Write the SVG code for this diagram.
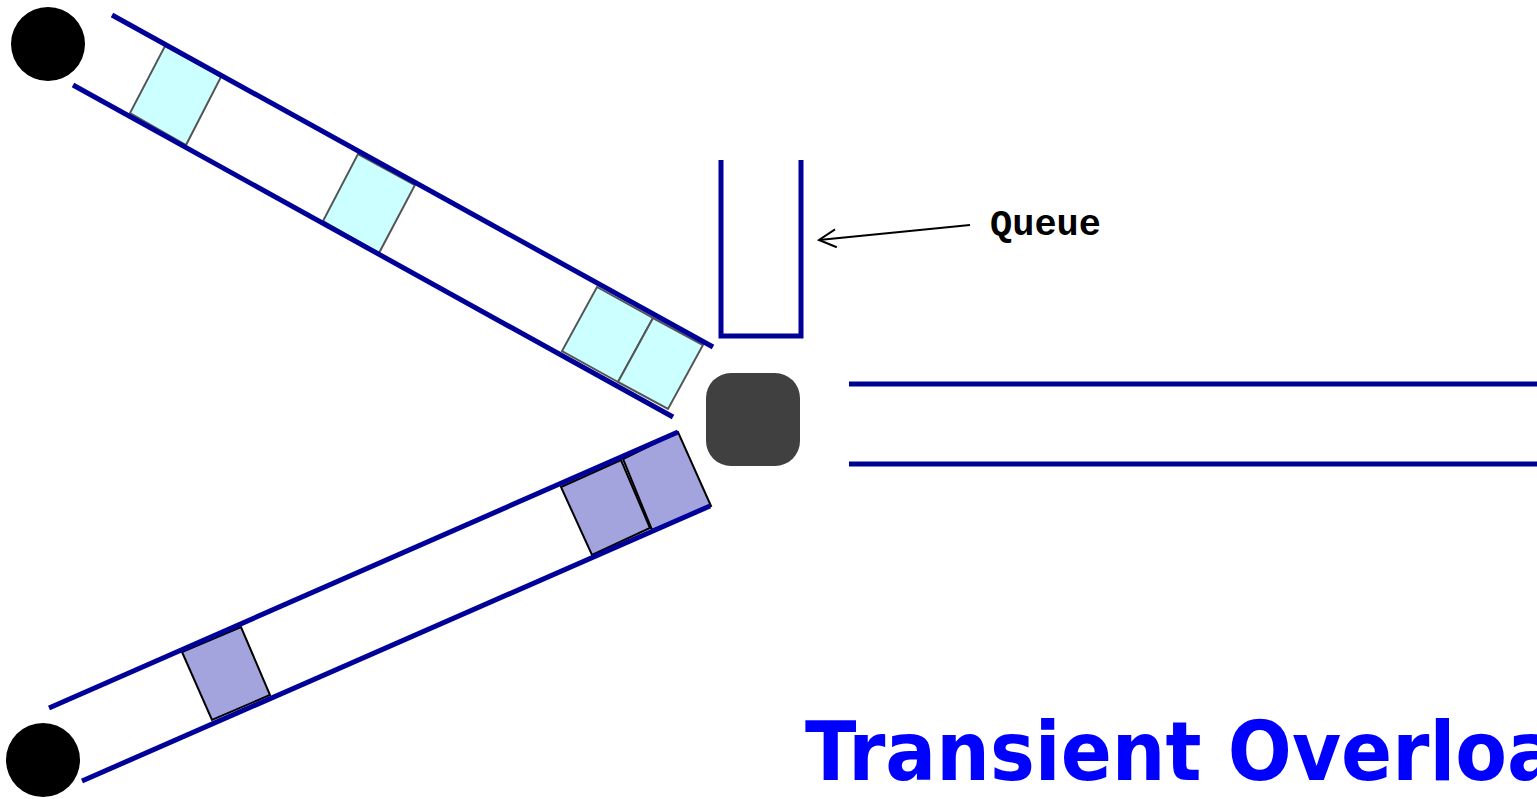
<svg xmlns="http://www.w3.org/2000/svg" width="1537" height="799" viewBox="0 0 1537 799">
<style>
.pipe{stroke:#000099;stroke-width:5;fill:none}
.cy{fill:#ccffff;stroke:#555555;stroke-width:2}
.pu{fill:#a3a3de;stroke:#000000;stroke-width:2}
.src{fill:#000000}
</style>
<defs>
<marker id="open" viewBox="0 0 20 20" refX="18" refY="10" markerWidth="20" markerHeight="20" markerUnits="userSpaceOnUse" orient="auto">
<path d="M1,1 L18,10 L1,19" fill="none" stroke="#000" stroke-width="2"/>
</marker>
</defs>
<rect width="1537" height="799" fill="#ffffff"/>
<g id="packets-upper">
<polygon class="cy" points="165,46 221,77 186,145 130,113"/>
<polygon class="cy" points="358,154 415,185 379,253 323,221"/>
<polygon class="cy" points="597,287 653,318 618,382 562,351"/>
<polygon class="cy" points="653,318 703,345 668,409 618,382"/>
</g>
<g id="packets-lower">
<polygon class="pu" points="182,652 241,627 270,695 212,720"/>
<polygon class="pu" points="561,487 621,460 650,528 592,555"/>
<polygon class="pu" points="623,459 678,432 711,506 652,530"/>
</g>
<g id="connectors">
<line class="pipe" x1="112" y1="15" x2="713" y2="347"/>
<line class="pipe" x1="73" y1="85" x2="673" y2="417"/>
<line class="pipe" x1="49" y1="708" x2="678" y2="432"/>
<line class="pipe" x1="82" y1="781" x2="710" y2="506"/>
<line class="pipe" x1="849" y1="384" x2="1537" y2="384"/>
<line class="pipe" x1="849" y1="464" x2="1537" y2="464"/>
<line x1="970" y1="225" x2="819" y2="240" stroke="#000" stroke-width="2" marker-end="url(#open)"/>
</g>
<g id="source-top"><circle class="src" cx="48" cy="44" r="37"/></g>
<g id="source-bottom"><circle class="src" cx="43" cy="760" r="37"/></g>
<g id="queue"><path class="pipe" d="M721,160 V336 H801 V160"/></g>
<g id="router"><rect x="706" y="373" width="94" height="93" rx="25" fill="#404040"/></g>
<g id="queue-label"><text x="990" y="235" font-family="'Liberation Mono', monospace" font-weight="bold" font-size="37" fill="#000">Queue</text></g>
<g id="title"><text transform="translate(805,780) scale(0.92,1)" x="0" y="0" font-family="'DejaVu Sans', sans-serif" font-weight="bold" font-size="82" fill="#0000ff">Transient Overload</text></g>
</svg>
